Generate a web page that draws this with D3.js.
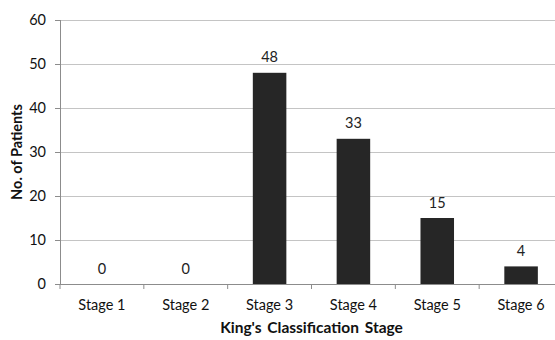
<!DOCTYPE html>
<html>
<head>
<meta charset="utf-8">
<script src="https://cdn.jsdelivr.net/npm/d3@7"></script>
<style>
  html, body { margin: 0; padding: 0; background: #fff; overflow: hidden; }
  svg { display: block; font-family: Lato, "Open Sans", sans-serif; }
</style>
</head>
<body>
<svg id="chart" width="555" height="340"></svg>
<script>
// Patients by King's classification stage
const stages = ["Stage 1", "Stage 2", "Stage 3", "Stage 4", "Stage 5", "Stage 6"];
const patients = [0, 0, 48, 33, 15, 4];
const yTicks = [0, 10, 20, 30, 40, 50, 60];

const svg = d3.select("#chart");
const margin = { left: 60, top: 20, right: -8, bottom: 56 };
const W = 555, H = 340;
const x0 = margin.left, x1 = W - margin.right;
const yTop = margin.top, yBot = H - margin.bottom;
const fs = 14.5;

const x = d3.scaleBand().domain(stages).range([x0, x1]).paddingInner(0.6).paddingOuter(0.3);
const xb = d3.scaleBand().domain(stages).range([x0, x1]);
const y = d3.scaleLinear().domain([0, 60]).range([yBot, yTop]);

// horizontal gridlines
svg.append("g")
  .selectAll("line")
  .data(yTicks.filter(d => d > 0))
  .join("line")
  .attr("x1", x0).attr("x2", x1)
  .attr("y1", d => y(d)).attr("y2", d => y(d))
  .attr("stroke", "#c4c4c4").attr("stroke-width", 1)
  .attr("shape-rendering", "crispEdges");

// bars
svg.append("g")
  .selectAll("rect")
  .data(stages)
  .join("rect")
  .attr("x", d => x(d))
  .attr("width", x.bandwidth())
  .attr("y", (d, i) => y(patients[i]))
  .attr("height", (d, i) => y(0) - y(patients[i]))
  .attr("fill", "#262626");

// value labels
svg.append("g")
  .selectAll("text")
  .data(stages)
  .join("text")
  .attr("x", d => x(d) + x.bandwidth() / 2)
  .attr("y", (d, i) => y(patients[i]) - 10.5)
  .attr("text-anchor", "middle")
  .attr("font-size", fs)
  .attr("fill", "#222")
  .text((d, i) => patients[i]);

// y axis
const yAxis = svg.append("g")
  .attr("transform", `translate(${x0},0)`)
  .call(d3.axisLeft(y).tickValues(yTicks).tickSize(5).tickPadding(9));
// x axis with ticks on band boundaries
const xAxis = svg.append("g")
  .attr("transform", `translate(0,${yBot})`)
  .call(d3.axisBottom(xb).tickSize(0).tickPadding(16));
xAxis.append("g")
  .selectAll("line")
  .data(stages)
  .join("line")
  .attr("x1", d => xb(d) + xb.bandwidth()).attr("x2", d => xb(d) + xb.bandwidth())
  .attr("y1", 0).attr("y2", 5)
  .attr("stroke", "#8c8c8c");
xAxis.append("line").attr("x1", x0).attr("x2", x0).attr("y1", 0).attr("y2", 5).attr("stroke", "#8c8c8c");

[yAxis, xAxis].forEach(g => {
  g.selectAll(".domain").attr("stroke", "#8c8c8c").attr("shape-rendering", "crispEdges");
  g.selectAll(".tick line").attr("stroke", "#8c8c8c");
  g.selectAll("text").attr("font-size", fs).attr("fill", "#111").attr("font-family", "Lato, 'Open Sans', sans-serif");
});
xAxis.select(".domain").attr("d", `M${x0},0H${x1}`);

// axis titles
svg.append("text")
  .attr("x", (x0 + x1) / 2).attr("y", 333)
  .attr("text-anchor", "middle")
  .attr("font-size", 15.5).attr("font-weight", "bold").attr("fill", "#111")
  .attr("word-spacing", 2)
  .text("King's Classification Stage");

svg.append("text")
  .attr("transform", `translate(22,${(yTop + yBot) / 2}) rotate(-90)`)
  .attr("text-anchor", "middle")
  .attr("font-size", 14.5).attr("font-weight", "bold").attr("fill", "#111")
  .text("No. of Patients");
</script>
</body>
</html>
